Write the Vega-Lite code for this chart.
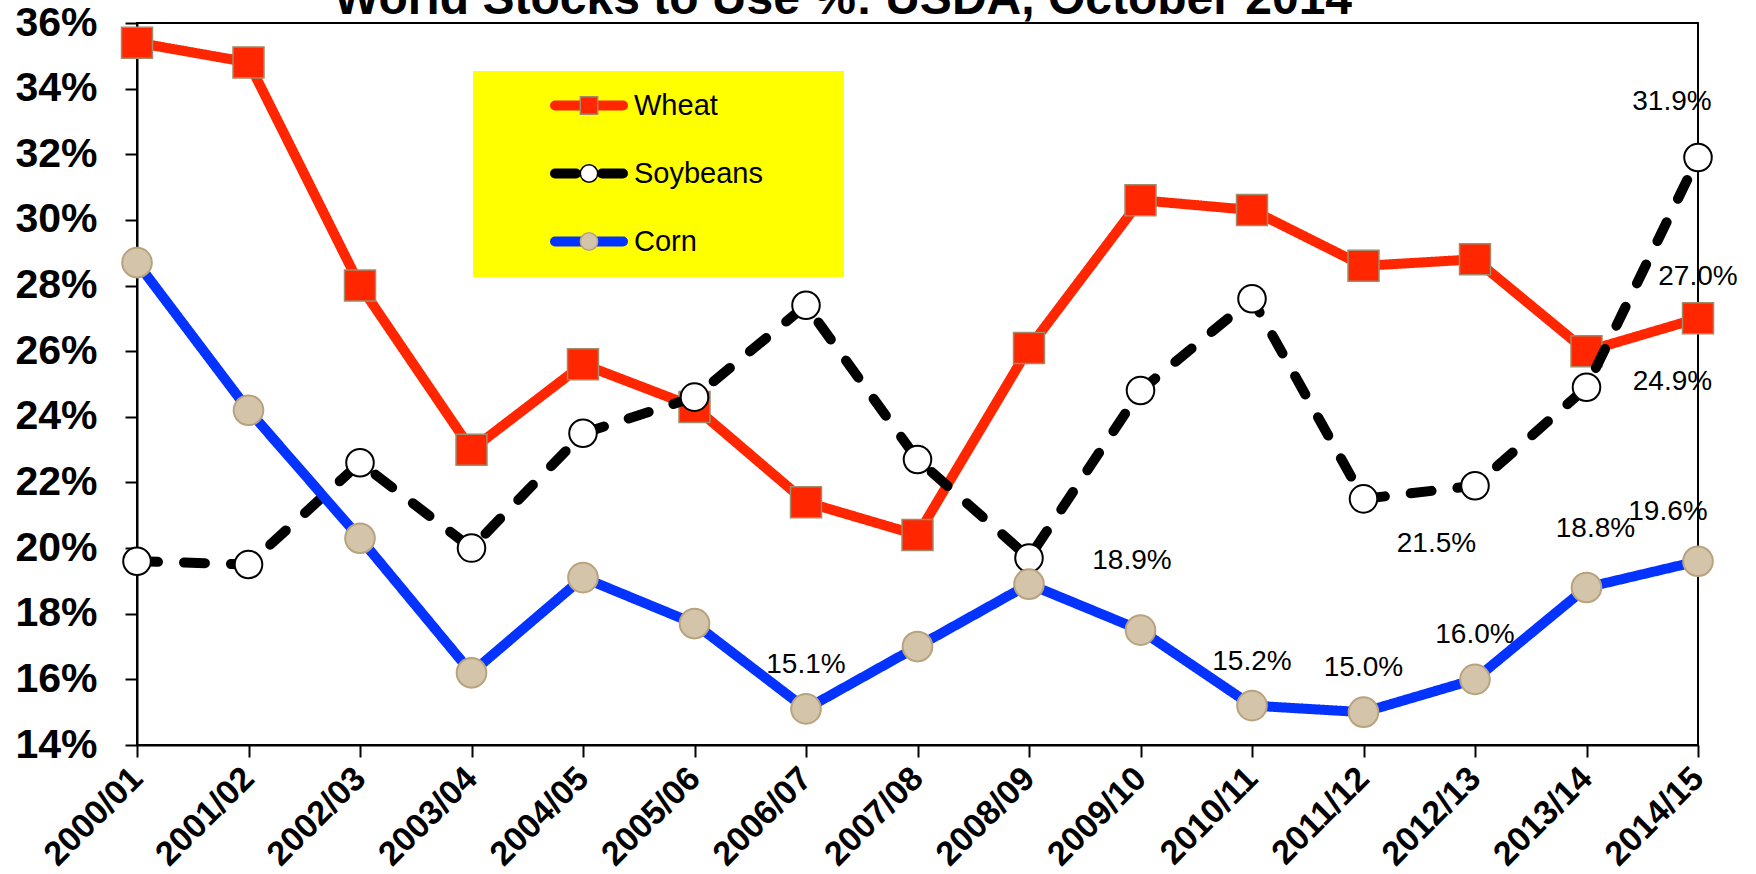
{
  "$schema": "https://vega.github.io/schema/vega-lite/v6.json",
  "width": 1561,
  "height": 722,
  "autosize": {"type": "none"},
  "padding": {"left": 137, "top": 23, "right": 58, "bottom": 129},
  "background": "white",
  "title": {
    "text": "World Stocks to Use %: USDA, October 2014",
    "anchor": "start",
    "frame": "group",
    "dx": 197,
    "dy": 60,
    "baseline": "alphabetic",
    "offset": 0,
    "fontSize": 48,
    "font": "Liberation Sans",
    "fontWeight": "bold",
    "color": "#000000"
  },
  "config": {
    "view": {"stroke": "#000000", "strokeWidth": 2},
    "axis": {"grid": false, "title": null, "domainColor": "#000000", "domainWidth": 2, "tickColor": "#000000", "tickWidth": 2, "tickSize": 12, "labelColor": "#000000", "labelFont": "Liberation Sans", "labelFontWeight": "bold", "labelOverlap": false}
  },
  "data": {
    "values": [
      {"season": "2000/01", "series": "Wheat", "value": 0.354},
      {"season": "2001/02", "series": "Wheat", "value": 0.348},
      {"season": "2002/03", "series": "Wheat", "value": 0.280},
      {"season": "2003/04", "series": "Wheat", "value": 0.230},
      {"season": "2004/05", "series": "Wheat", "value": 0.256},
      {"season": "2005/06", "series": "Wheat", "value": 0.243},
      {"season": "2006/07", "series": "Wheat", "value": 0.214},
      {"season": "2007/08", "series": "Wheat", "value": 0.204},
      {"season": "2008/09", "series": "Wheat", "value": 0.261},
      {"season": "2009/10", "series": "Wheat", "value": 0.306},
      {"season": "2010/11", "series": "Wheat", "value": 0.303},
      {"season": "2011/12", "series": "Wheat", "value": 0.286},
      {"season": "2012/13", "series": "Wheat", "value": 0.288},
      {"season": "2013/14", "series": "Wheat", "value": 0.260},
      {"season": "2014/15", "series": "Wheat", "value": 0.270},
      {"season": "2000/01", "series": "Soybeans", "value": 0.196},
      {"season": "2001/02", "series": "Soybeans", "value": 0.195},
      {"season": "2002/03", "series": "Soybeans", "value": 0.226},
      {"season": "2003/04", "series": "Soybeans", "value": 0.200},
      {"season": "2004/05", "series": "Soybeans", "value": 0.235},
      {"season": "2005/06", "series": "Soybeans", "value": 0.246},
      {"season": "2006/07", "series": "Soybeans", "value": 0.274},
      {"season": "2007/08", "series": "Soybeans", "value": 0.227},
      {"season": "2008/09", "series": "Soybeans", "value": 0.197},
      {"season": "2009/10", "series": "Soybeans", "value": 0.248},
      {"season": "2010/11", "series": "Soybeans", "value": 0.276},
      {"season": "2011/12", "series": "Soybeans", "value": 0.215},
      {"season": "2012/13", "series": "Soybeans", "value": 0.219},
      {"season": "2013/14", "series": "Soybeans", "value": 0.249},
      {"season": "2014/15", "series": "Soybeans", "value": 0.319},
      {"season": "2000/01", "series": "Corn", "value": 0.287},
      {"season": "2001/02", "series": "Corn", "value": 0.242},
      {"season": "2002/03", "series": "Corn", "value": 0.203},
      {"season": "2003/04", "series": "Corn", "value": 0.162},
      {"season": "2004/05", "series": "Corn", "value": 0.191},
      {"season": "2005/06", "series": "Corn", "value": 0.177},
      {"season": "2006/07", "series": "Corn", "value": 0.151},
      {"season": "2007/08", "series": "Corn", "value": 0.170},
      {"season": "2008/09", "series": "Corn", "value": 0.189},
      {"season": "2009/10", "series": "Corn", "value": 0.175},
      {"season": "2010/11", "series": "Corn", "value": 0.152},
      {"season": "2011/12", "series": "Corn", "value": 0.150},
      {"season": "2012/13", "series": "Corn", "value": 0.160},
      {"season": "2013/14", "series": "Corn", "value": 0.188},
      {"season": "2014/15", "series": "Corn", "value": 0.196}
    ]
  },
  "encoding": {
    "x": {
      "field": "season",
      "type": "ordinal",
      "scale": {"type": "point", "padding": 0},
      "axis": {"labelAngle": -45, "labelAlign": "right", "labelBaseline": "middle", "labelFontSize": 34, "labelPadding": 16}
    },
    "y": {
      "field": "value",
      "type": "quantitative",
      "scale": {"domain": [0.14, 0.36], "zero": false, "nice": false},
      "axis": {"values": [0.14, 0.16, 0.18, 0.2, 0.22, 0.24, 0.26, 0.28, 0.3, 0.32, 0.34, 0.36], "format": ".0%", "labelFontSize": 41, "labelPadding": 28}
    }
  },
  "layer": [
    {
      "transform": [{"filter": "datum.series === 'Wheat'"}],
      "mark": {"type": "line", "strokeWidth": 10, "strokeJoin": "round", "strokeCap": "round"},
      "encoding": {
        "color": {"field": "series", "type": "nominal", "scale": {"domain": ["Wheat", "Soybeans", "Corn"], "range": ["#FF2600", "#000000", "#0433FF"]},
          "legend": {"orient": "none", "legendX": 336, "legendY": 48, "title": ".", "titleOrient": "right", "titlePadding": 60, "titleFontSize": 2, "titleColor": "#FFFF00", "fillColor": "#FFFF00", "padding": 20, "symbolType": "stroke", "symbolSize": 4624, "symbolStrokeWidth": 10, "symbolOffset": 57, "labelOffset": 6, "labelFontSize": 29, "labelFont": "Liberation Sans", "labelColor": "#000000", "clipHeight": 29, "rowPadding": 38, "zindex": 1, "encode": {"symbols": {"update": {"strokeCap": {"value": "round"}}}}}},
        "strokeDash": {"field": "series", "type": "nominal", "scale": {"domain": ["Wheat", "Soybeans", "Corn"], "range": [[1, 0], [21, 26], [1, 0]]},
          "legend": {"orient": "none", "legendX": 336, "legendY": 48, "title": ".", "titleOrient": "right", "titlePadding": 60, "titleFontSize": 2, "titleColor": "#FFFF00", "fillColor": "#FFFF00", "padding": 20, "symbolType": "stroke", "symbolSize": 4624, "symbolStrokeWidth": 10, "symbolOffset": 57, "labelOffset": 6, "labelFontSize": 29, "labelFont": "Liberation Sans", "labelColor": "#000000", "clipHeight": 29, "rowPadding": 38, "zindex": 1, "encode": {"symbols": {"update": {"strokeCap": {"value": "round"}}}}}}
      }
    },
    {
      "transform": [{"filter": "datum.series === 'Wheat'"}],
      "mark": {"type": "point", "filled": true, "size": 961, "strokeWidth": 1.5, "opacity": 1},
      "encoding": {
        "shape": {"field": "series", "type": "nominal", "scale": {"domain": ["Wheat", "Soybeans", "Corn", "_"], "range": ["square", "circle", "circle", "circle"]},
          "legend": {"orient": "none", "legendX": 336, "legendY": 48, "title": null, "padding": 20, "symbolSize": 300, "symbolStrokeWidth": 1.5, "symbolOpacity": 1, "symbolOffset": 81.5, "labelOffset": 6, "labelFontSize": 29, "labelFont": "Liberation Sans", "labelColor": "transparent", "labelExpr": "''", "clipHeight": 29, "rowPadding": 38, "values": ["Wheat", "Soybeans", "Corn"], "zindex": 2}},
        "fill": {"field": "series", "type": "nominal", "scale": {"domain": ["Wheat", "Soybeans", "Corn", "_"], "range": ["#FF2600", "#FFFFFF", "#D4C5AA", "#FFFFFF"]},
          "legend": {"orient": "none", "legendX": 336, "legendY": 48, "title": null, "padding": 20, "symbolSize": 300, "symbolStrokeWidth": 1.5, "symbolOpacity": 1, "symbolOffset": 81.5, "labelOffset": 6, "labelFontSize": 29, "labelFont": "Liberation Sans", "labelColor": "transparent", "labelExpr": "''", "clipHeight": 29, "rowPadding": 38, "values": ["Wheat", "Soybeans", "Corn"], "zindex": 2}},
        "stroke": {"field": "series", "type": "nominal", "scale": {"domain": ["Wheat", "Soybeans", "Corn", "_"], "range": ["#A08C6A", "#000000", "#B9A27E", "#000000"]},
          "legend": {"orient": "none", "legendX": 336, "legendY": 48, "title": null, "padding": 20, "symbolSize": 300, "symbolStrokeWidth": 1.5, "symbolOpacity": 1, "symbolOffset": 81.5, "labelOffset": 6, "labelFontSize": 29, "labelFont": "Liberation Sans", "labelColor": "transparent", "labelExpr": "''", "clipHeight": 29, "rowPadding": 38, "values": ["Wheat", "Soybeans", "Corn"], "zindex": 2}}
      }
    },
    {
      "transform": [{"filter": "datum.series === 'Soybeans'"}],
      "mark": {"type": "line", "strokeWidth": 10, "strokeJoin": "round", "strokeCap": "round"},
      "encoding": {
        "color": {"field": "series", "type": "nominal"},
        "strokeDash": {"field": "series", "type": "nominal"}
      }
    },
    {
      "transform": [{"filter": "datum.series === 'Soybeans'"}],
      "mark": {"type": "point", "filled": true, "size": 760, "strokeWidth": 2, "opacity": 1},
      "encoding": {
        "shape": {"field": "series", "type": "nominal"},
        "fill": {"field": "series", "type": "nominal"},
        "stroke": {"field": "series", "type": "nominal"}
      }
    },
    {
      "transform": [{"filter": "datum.series === 'Corn'"}],
      "mark": {"type": "line", "strokeWidth": 10, "strokeJoin": "round", "strokeCap": "round"},
      "encoding": {
        "color": {"field": "series", "type": "nominal"},
        "strokeDash": {"field": "series", "type": "nominal"}
      }
    },
    {
      "transform": [{"filter": "datum.series === 'Corn'"}],
      "mark": {"type": "point", "filled": true, "size": 880, "strokeWidth": 2, "opacity": 1},
      "encoding": {
        "shape": {"field": "series", "type": "nominal"},
        "fill": {"field": "series", "type": "nominal"},
        "stroke": {"field": "series", "type": "nominal"}
      }
    },
    {
      "transform": [{"filter": "datum.series === 'Corn' && (datum.season === '2006/07' || datum.season === '2010/11' || datum.season === '2011/12' || datum.season === '2012/13')"}],
      "mark": {"type": "text", "fontSize": 28, "font": "Liberation Sans", "baseline": "alphabetic", "align": "center", "dx": 0, "dy": -36, "color": "#000000"},
      "encoding": {"text": {"field": "value", "format": ".1%"}}
    },
    {
      "transform": [{"filter": "datum.series === 'Corn' && datum.season === '2013/14'"}],
      "mark": {"type": "text", "fontSize": 28, "font": "Liberation Sans", "baseline": "alphabetic", "align": "center", "dx": 9, "dy": -50, "color": "#000000"},
      "encoding": {"text": {"field": "value", "format": ".1%"}}
    },
    {
      "transform": [{"filter": "datum.series === 'Corn' && datum.season === '2014/15'"}],
      "mark": {"type": "text", "fontSize": 28, "font": "Liberation Sans", "baseline": "alphabetic", "align": "center", "dx": -30, "dy": -41, "color": "#000000"},
      "encoding": {"text": {"field": "value", "format": ".1%"}}
    },
    {
      "transform": [{"filter": "datum.series === 'Corn' && datum.season === '2008/09'"}],
      "mark": {"type": "text", "fontSize": 28, "font": "Liberation Sans", "baseline": "alphabetic", "align": "center", "dx": 103, "dy": -15, "color": "#000000"},
      "encoding": {"text": {"field": "value", "format": ".1%"}}
    },
    {
      "transform": [{"filter": "datum.series === 'Soybeans' && datum.season === '2014/15'"}],
      "mark": {"type": "text", "fontSize": 28, "font": "Liberation Sans", "baseline": "alphabetic", "align": "center", "dx": -26, "dy": -48, "color": "#000000"},
      "encoding": {"text": {"field": "value", "format": ".1%"}}
    },
    {
      "transform": [{"filter": "datum.series === 'Soybeans' && datum.season === '2013/14'"}],
      "mark": {"type": "text", "fontSize": 28, "font": "Liberation Sans", "baseline": "alphabetic", "align": "center", "dx": 86, "dy": 3, "color": "#000000"},
      "encoding": {"text": {"field": "value", "format": ".1%"}}
    },
    {
      "transform": [{"filter": "datum.series === 'Soybeans' && datum.season === '2011/12'"}],
      "mark": {"type": "text", "fontSize": 28, "font": "Liberation Sans", "baseline": "alphabetic", "align": "center", "dx": 73, "dy": 53, "color": "#000000"},
      "encoding": {"text": {"field": "value", "format": ".1%"}}
    },
    {
      "transform": [{"filter": "datum.series === 'Wheat' && datum.season === '2014/15'"}],
      "mark": {"type": "text", "fontSize": 28, "font": "Liberation Sans", "baseline": "alphabetic", "align": "center", "dx": 0, "dy": -33, "color": "#000000"},
      "encoding": {"text": {"field": "value", "format": ".1%"}}
    }
  ]
}
